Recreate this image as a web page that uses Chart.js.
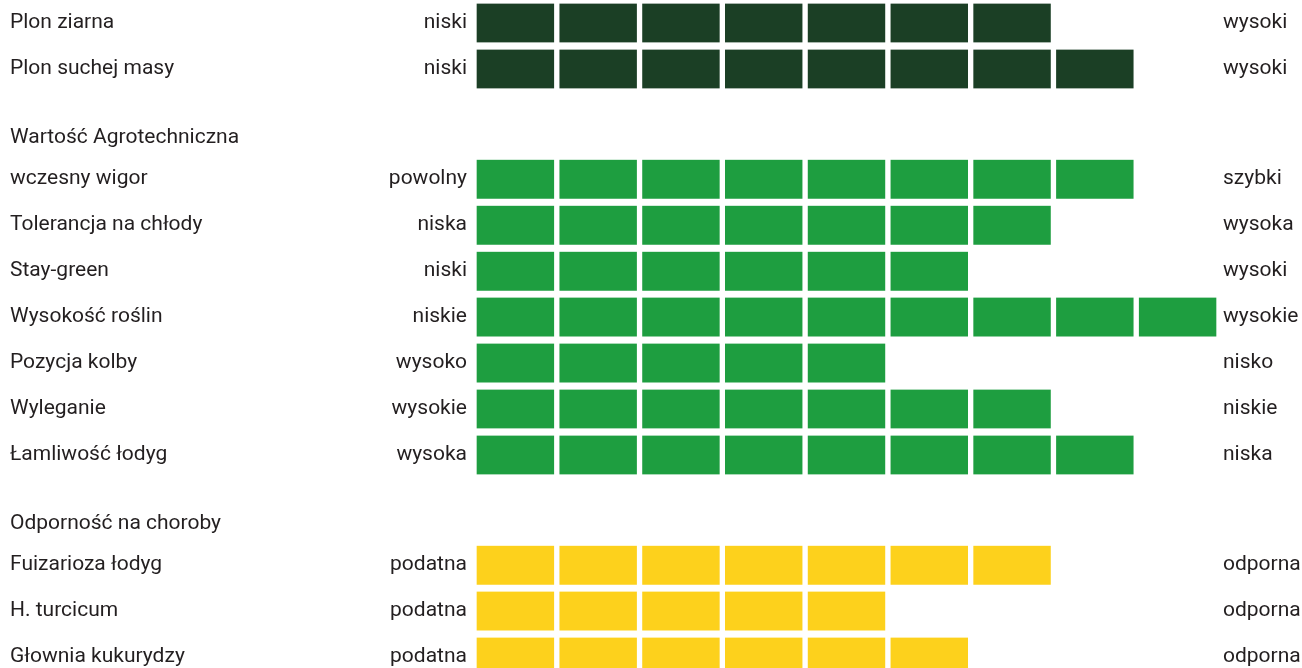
<!DOCTYPE html>
<html>
<head>
<meta charset="utf-8">
<script src="https://cdn.jsdelivr.net/npm/chart.js@4.4.1/dist/chart.umd.min.js"></script>
<style>
  html, body { margin: 0; padding: 0; background: #ffffff; overflow: hidden; width: 1302px; height: 668px; }
  .box { position: absolute; left: 0; width: 1302px; }
</style>
</head>
<body>
<div class="box" style="top:0px;height:92px"><canvas id="c1"></canvas></div>
<div class="box" style="top:92px;height:386px"><canvas id="c2"></canvas></div>
<div class="box" style="top:478px;height:202px"><canvas id="c3"></canvas></div>
<script>
// ---- data ----
const headings = ["", "Wartość Agrotechniczna", "Odporność na choroby"];

const names1 = ["Plon ziarna", "Plon suchej masy"];
const low1   = ["niski", "niski"];
const high1  = ["wysoki", "wysoki"];
const values1 = [7, 8];

const names2 = ["wczesny wigor", "Tolerancja na chłody", "Stay-green", "Wysokość roślin", "Pozycja kolby", "Wyleganie", "Łamliwość łodyg"];
const low2   = ["powolny", "niska", "niski", "niskie", "wysoko", "wysokie", "wysoka"];
const high2  = ["szybki", "wysoka", "wysoki", "wysokie", "nisko", "niskie", "niska"];
const values2 = [8, 7, 6, 9, 5, 7, 8];

const names3 = ["Fuizarioza łodyg", "H. turcicum", "Głownia kukurydzy"];
const low3   = ["podatna", "podatna", "podatna"];
const high3  = ["odporna", "odporna", "odporna"];
const values3 = [7, 5, 6];

const maxScore = 9;
const colors = ["#1b3f25", "#1e9e40", "#fdd11c"];

// ---- drawing ----
const FONT = { family: "Roboto, 'DejaVu Sans', sans-serif", size: 21 };
const TEXT = "#231f20";

function noPad(width) {
  return s => { s.width = width; s.paddingTop = 0; s.paddingBottom = 0; };
}

function makeChart(id, heading, names, low, high, values, color) {
  const datasets = [];
  for (let k = 0; k < maxScore; k++) {
    datasets.push({
      data: values.map(v => (v > k ? 1 : null)),
      backgroundColor: color,
      borderColor: "#ffffff",
      borderWidth: { left: 3, right: 3, top: 0, bottom: 0 },
      borderSkipped: false,
      barThickness: 39,
      yAxisID: "y"
    });
  }
  return new Chart(document.getElementById(id), {
    type: "bar",
    data: { labels: names, datasets },
    options: {
      indexAxis: "y",
      responsive: true,
      maintainAspectRatio: false,
      animation: false,
      events: [],
      layout: { padding: { left: 10, right: 0, top: 0, bottom: 0 } },
      plugins: {
        legend: { display: false },
        tooltip: { enabled: false },
        title: {
          display: heading !== "",
          text: heading,
          align: "start",
          color: TEXT,
          font: Object.assign({ weight: "normal" }, FONT),
          padding: { top: 33, bottom: 6 }
        }
      },
      scales: {
        x: {
          type: "linear", stacked: true, min: 0, max: maxScore,
          display: false
        },
        y: {
          type: "category", stacked: true, position: "left", weight: 1,
          grid: { display: false, drawTicks: false }, border: { display: false },
          ticks: { color: TEXT, font: FONT, crossAlign: "far", padding: 0, autoSkip: false },
          afterFit: noPad(344)
        },
        yLow: {
          type: "category", labels: low, position: "left", weight: 0, offset: true,
          grid: { display: false, drawTicks: false }, border: { display: false },
          ticks: { color: TEXT, font: FONT, padding: 7, autoSkip: false },
          afterFit: noPad(120)
        },
        yHigh: {
          type: "category", labels: high, position: "right", offset: true,
          grid: { display: false, drawTicks: false }, border: { display: false },
          ticks: { color: TEXT, font: FONT, padding: 4, autoSkip: false, crossAlign: "near" },
          afterFit: noPad(83)
        }
      }
    }
  });
}

makeChart("c1", headings[0], names1, low1, high1, values1, colors[0]);
makeChart("c2", headings[1], names2, low2, high2, values2, colors[1]);
makeChart("c3", headings[2], names3, low3, high3, values3, colors[2]);
</script>
</body>
</html>
